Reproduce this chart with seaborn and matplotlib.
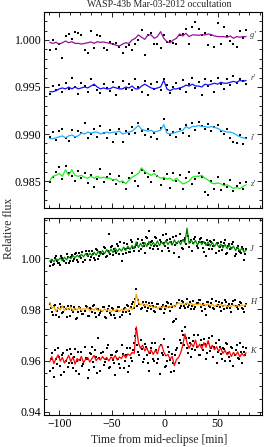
import numpy as np
import matplotlib
matplotlib.use("Agg")
import matplotlib.pyplot as plt
from matplotlib.ticker import MultipleLocator, FormatStrFormatter
import seaborn as sns

# time from mid-eclipse [min]
t_opt = [-109, -106, -103, -100, -97, -94, -91, -88, -85, -82, -79, -76, -73, -70, -67, -64,
         -61, -58, -55, -52, -49, -46, -43, -40, -37, -34, -31, -28, -25, -22, -19, -16,
         -13, -10, -7, -4, -1, 2, 5, 8, 11, 14, 17, 20, 23, 26, 29, 32, 35, 38, 41, 44,
         47, 50, 53, 56, 59, 62, 65, 68, 71, 74, 77]
t_nir = [-109, -107, -105, -103, -101, -99, -97, -95, -93, -91,
         -89, -87, -85, -83, -81, -79, -77, -75, -73, -71,
         -69, -67, -65, -63, -61, -59, -57, -55, -53, -51,
         -49, -47, -45, -43, -41, -39, -37, -35, -33, -31,
         -29, -27, -25, -23, -21, -19, -17, -15, -13, -11,
         -9, -7, -5, -3, -1, 1, 3, 5, 7, 9,
         11, 13, 15, 17, 19, 21, 23, 25, 27, 29,
         31, 33, 35, 37, 39, 41, 43, 45, 47, 49,
         51, 53, 55, 57, 59, 61, 63, 65, 67, 69,
         71, 73, 75, 77]
t_nir2 = [-108, -106, -104, -102, -100, -98, -96, -94, -92, -90,
          -88, -86, -84, -82, -80, -78, -76, -74, -72, -70,
          -68, -66, -64, -62, -60, -58, -56, -54, -52, -50,
          -48, -46, -44, -42, -40, -38, -36, -34, -32, -30,
          -28, -26, -24, -22, -20, -18, -16, -14, -12, -10,
          -8, -6, -4, -2, 0, 2, 4, 6, 8, 10,
          12, 14, 16, 18, 20, 22, 24, 26, 28, 30,
          32, 34, 36, 38, 40, 42, 44, 46, 48, 50,
          52, 54, 56, 58, 60, 62, 64, 66, 68, 70,
          72, 74, 76]

# relative flux, stored as (flux - 1) * 1e4
g_dots = [-11, 0, -10, -4, -19, 4, 6, 1, 8, 7, 5, -11, -14, 10, -9, 5, 4, -9, -11, -2,
          -4, -3, -7, -14, -7, -5, -11, -4, 0, 11, -16, 5, 7, -4, -4, -9, 5, -2, -1, -3,
          -4, 5, 6, 12, -4, 14, 19, 12, 5, 7, -5, 5, -7, 18, -4, 14, 4, -1, -4, -7, 10, 2, 11]
g_line = [-2.5, -3.6, -2.5, -4.3, -2.9, -1.1, -2.9, -1.8, -3.6, -3.6,
          -4.3, -3.6, -2.9, -2.1, -3.6, -1.8, -2.5, -2.1, -2.9, -3.6,
          -4.3, -5.7, -6.4, -4.3, -2.9, -3.6, 0, 1.8, 5.4, 2.9,
          0.7, 5.4, 5.4, 1.8, 3.6, 8.9, 1.8, -1.8, -2.9, 0,
          1.8, 6.4, 4.3, 7.1, 3.6, 5.4, 5.4, 5.0, 5.7, 5.4,
          6.4, 5.7, 4.3, 3.6, 3.6, 3.6, 2.9, 4.3, 1.8, 3.6, 2.9, 3.6, 3.6]

r_dots = [-57, -49, -53, -48, -55, -46, -52, -40, -50, -57, -46, -49, -55, -41, -48, -53, -56, -47, -51, -54,
          -45, -58, -50, -44, -52, -47, -53, -42, -50, -55, -44, -58, -47, -52, -45, -53, -41, -48, -56, -50,
          -46, -52, -43, -55, -47, -40, -51, -45, -58, -42, -49, -44, -55, -40, -47, -52, -42, -48, -38, -46,
          -41, -44, -47]
r_line = [-55, -55, -54, -52, -51, -52, -50, -52, -50, -52, -51, -50, -51, -49, -47, -50, -52, -51, -52, -52,
          -50, -51, -52, -52, -50, -51, -49, -52, -52, -49, -47, -49, -51, -52, -51, -50, -43, -52, -54, -52,
          -52, -51, -50, -48, -49, -47, -49, -49, -50, -47, -48, -47, -46, -47, -45, -46, -46, -45, -44, -45,
          -43, -44, -43]

i_dots = [-103, -98, -106, -97, -95, -104, -107, -96, -103, -97, -99, -88, -104, -100, -95, -103, -92, -99, -104, -96,
          -109, -100, -95, -108, -97, -100, -93, -99, -88, -97, -101, -95, -103, -99, -105, -94, -84, -96, -101, -98,
          -103, -95, -99, -90, -102, -88, -96, -87, -92, -95, -89, -97, -93, -90, -97, -100, -95, -104, -108, -110,
          -101, -111, -104]
i_line = [-105, -105, -104, -103, -102, -104, -102, -101, -103, -102, -99, -100, -98, -99, -98, -98, -100, -99, -98, -99,
          -98, -98, -97, -100, -99, -98, -97, -94, -91, -95, -96, -97, -96, -98, -97, -96, -90, -99, -100, -99,
          -98, -97, -96, -92, -94, -92, -92, -91, -92, -92, -93, -92, -93, -94, -96, -97, -98, -98, -99, -101,
          -103, -104, -105]

z_dots = [-151, -146, -140, -135, -148, -134, -142, -145, -150, -139, -147, -141, -152, -144, -156, -148, -137, -151, -146, -143,
          -149, -153, -145, -151, -158, -147, -141, -150, -155, -138, -142, -146, -151, -139, -145, -154, -148, -143, -157, -141,
          -150, -144, -159, -147, -140, -153, -148, -142, -146, -162, -165, -150, -158, -146, -160, -153, -156, -149, -161, -155,
          -152, -158, -151]
z_line = [-150, -145, -144, -142, -145, -138, -144, -138, -144, -145, -144, -146, -147, -145, -147, -145, -147, -146, -147, -147,
          -149, -148, -151, -150, -153, -149, -146, -144, -142, -136, -140, -142, -144, -142, -145, -147, -146, -148, -147, -150,
          -147, -150, -153, -152, -150, -146, -145, -145, -144, -147, -149, -152, -153, -152, -153, -155, -154, -156, -158, -157,
          -158, -156, -154]

J_dots = [-30, -5, -22, 8, -18, -25, 0, -12, 15, -20,
          5, -10, 18, -8, 22, 0, -15, 28, 10, -5,
          30, 2, 35, -2, 25, 15, 40, 8, 95, 45,
          12, 30, 55, 18, -10, 60, 20, 42, 25, 65,
          28, 52, 75, 35, 58, 22, 80, 105, 62, 38,
          85, 48, 70, 30, 60, 95, 42, 75, 55, 20,
          88, 5, 68, 35, 78, 100, 45, 70, 58, 85,
          40, 75, 62, 25, 8, 52, 68, 35, 72, 58,
          30, 65, 48, 70, 20, 55, 40, 62, 15, 50,
          25, 45, -5, 35]
J_dots2 = [-15, -28, 2, -10, -20, 10, -5, -18, 5, -12,
           12, -2, 20, -15, 8, 25, -6, 15, 30, 4,
           18, -8, 32, 10, 22, 45, 5, 28, 15, 50,
           35, 20, 48, 62, 15, 38, 55, 25, 70, 40,
           45, 60, 30, 72, 48, 85, 55, 40, 68, 50,
           78, 35, 62, 90, 48, 70, 30, 65, 82, 52,
           60, 95, 40, 72, 55, 88, 65, 30, 75, 50,
           62, 80, 42, 58, 70, 38, 65, 50, 22, 60,
           45, 32, 58, 18, 48, 35, 55, 10, 40, 28,
           20, 38, 15]
J_line = [-12, -4, -14, -2, -8, 2, -10, 4, -6, 6,
          -2, 10, 2, 12, 4, 16, 6, 18, 8, 20,
          10, 24, 12, 28, 14, 30, 18, 34, 20, 36,
          22, 40, 26, 38, 28, 44, 30, 48, 34, 50,
          38, 64, 42, 58, 44, 62, 46, 66, 48, 62,
          50, 68, 50, 64, 52, 70, 54, 66, 52, 72,
          56, 68, 54, 74, 60, 118, 58, 72, 56, 70,
          52, 68, 54, 66, 50, 64, 48, 62, 46, 60,
          44, 56, 40, 54, 38, 52, 36, 48, 30, 44,
          28, 40, 24, 32]

H_dots = [-178, -210, -185, -222, -195, -180, -215, -190, -228, -198,
          -185, -212, -200, -232, -190, -205, -218, -188, -225, -196,
          -210, -183, -230, -200, -215, -192, -228, -205, -188, -220,
          -198, -235, -206, -190, -222, -200, -212, -185, -218, -178,
          -195, -120, -165, -200, -170, -190, -205, -175, -198, -185,
          -210, -180, -200, -192, -215, -185, -175, -205, -190, -245,
          -238, -165, -185, -170, -195, -160, -182, -200, -168, -190,
          -175, -165, -205, -182, -220, -172, -190, -160, -198, -185,
          -170, -208, -188, -165, -195, -178, -212, -168, -185, -200,
          -172, -195, -210, -180]
H_dots2 = [-195, -220, -182, -205, -230, -190, -212, -200, -185, -225,
           -202, -190, -238, -210, -195, -218, -205, -192, -226, -200,
           -186, -215, -198, -222, -208, -190, -232, -200, -214, -195,
           -220, -205, -192, -228, -210, -196, -182, -205, -190, -172,
           -160, -185, -178, -196, -182, -170, -195, -188, -176, -205,
           -190, -178, -198, -184, -200, -172, -192, -180, -250, -186,
           -175, -195, -168, -188, -178, -192, -170, -185, -198, -176,
           -165, -190, -180, -200, -170, -185, -175, -195, -168, -182,
           -192, -175, -200, -170, -185, -195, -178, -165, -190, -182,
           -175, -198, -185]
H_line = [-172, -195, -188, -208, -192, -202, -186, -205, -194, -200,
          -190, -206, -196, -202, -192, -204, -197, -200, -192, -206,
          -198, -203, -194, -206, -200, -208, -198, -204, -200, -210,
          -202, -206, -198, -209, -200, -205, -196, -206, -194, -200,
          -188, -140, -172, -182, -176, -186, -180, -190, -184, -194,
          -188, -196, -190, -194, -186, -196, -188, -192, -184, -190,
          -180, -174, -180, -176, -182, -174, -180, -176, -184, -178,
          -182, -176, -186, -180, -184, -178, -186, -180, -188, -182,
          -186, -180, -188, -182, -190, -184, -188, -182, -190, -184,
          -188, -182, -186, -180]

K_dots = [-440, -370, -465, -395, -350, -420, -380, -445, -360, -410,
          -375, -430, -355, -400, -452, -365, -415, -390, -470, -372,
          -345, -425, -385, -310, -440, -368, -405, -350, -430, -378,
          -398, -455, -362, -415, -340, -428, -380, -445, -352, -400,
          -330, -275, -365, -320, -405, -335, -380, -440, -350, -395,
          -330, -410, -452, -370, -315, -420, -345, -398, -375, -440,
          -360, -410, -330, -300, -270, -350, -310, -385, -325, -360,
          -300, -380, -340, -315, -395, -330, -362, -305, -345, -410,
          -320, -375, -350, -400, -335, -385, -345, -420, -360, -390,
          -330, -410, -365, -350]
K_dots2 = [-395, -430, -360, -415, -385, -455, -370, -400, -425, -355,
           -410, -385, -440, -368, -398, -420, -345, -392, -435, -375,
           -405, -360, -448, -390, -372, -418, -395, -340, -425, -380,
           -410, -365, -395, -430, -375, -402, -350, -420, -390, -360,
           -305, -340, -380, -355, -392, -345, -410, -370, -332, -400,
           -360, -395, -340, -380, -425, -400, -365, -445, -410, -380,
           -350, -320, -285, -340, -312, -370, -330, -355, -300, -345,
           -380, -318, -360, -335, -372, -310, -350, -388, -330, -365,
           -345, -395, -355, -330, -372, -400, -350, -380, -340, -395,
           -365, -348, -380]
K_line = [-405, -385, -412, -392, -378, -402, -388, -410, -396, -380,
          -404, -386, -414, -392, -400, -384, -408, -395, -388, -406,
          -392, -380, -400, -390, -398, -384, -396, -388, -402, -386,
          -394, -380, -398, -386, -392, -376, -390, -374, -380, -368,
          -372, -268, -330, -352, -340, -362, -350, -372, -358, -376,
          -360, -374, -344, -338, -366, -382, -376, -394, -384, -420,
          -396, -388, -370, -340, -296, -330, -352, -334, -346, -320,
          -350, -336, -354, -330, -348, -322, -352, -340, -358, -346,
          -364, -350, -372, -360, -378, -364, -384, -368, -380, -366,
          -386, -372, -382, -370]

opt_bands = [("g'", g_dots, g_line, "#9a109a", 5),
             ("r'", r_dots, r_line, "#1010ff", -40),
             ("i'", i_dots, i_line, "#20b0ff", -104),
             ("z'", z_dots, z_line, "#22ee22", -153)]
nir_bands = [("J", J_dots, J_dots2, J_line, "#008a00", 35),
             ("H", H_dots, H_dots2, H_line, "#ffa500", -172),
             ("K", K_dots, K_dots2, K_line, "#ff0000", -361)]

sns.set_theme(style="ticks")
plt.rcParams["font.family"] = ["Liberation Serif", "DejaVu Serif"]


def to_flux(vals):
    return 1.0 + np.asarray(vals, dtype=float) * 1e-4


def draw_dots(ax, t, dots):
    sns.scatterplot(x=t, y=to_flux(dots), ax=ax, s=2.2, marker="s",
                    color="black", linewidth=0, legend=False, zorder=2)


def draw_line(ax, t, line, color, name, label_y):
    sns.lineplot(x=t, y=to_flux(line), ax=ax, color=color, lw=0.9,
                 legend=False, zorder=3)
    ax.text(81, to_flux([label_y])[0], name, fontsize=6, style="italic",
            color="#333333", ha="left", va="center")


def style_axes(ax, major, minor, fmt):
    ax.set_xlim(-114.4, 92)
    ax.xaxis.set_major_locator(MultipleLocator(50))
    ax.xaxis.set_minor_locator(MultipleLocator(10))
    ax.yaxis.set_major_locator(MultipleLocator(major))
    ax.yaxis.set_minor_locator(MultipleLocator(minor))
    ax.yaxis.set_major_formatter(FormatStrFormatter(fmt))
    ax.tick_params(which="both", direction="in", top=True, right=True,
                   width=0.6, labelsize=8.5, pad=2, colors="black")
    ax.tick_params(which="major", length=3.5)
    ax.tick_params(which="minor", length=2)
    for sp in ax.spines.values():
        sp.set_linewidth(0.8)
        sp.set_color("black")
    ax.set_xlabel("")
    ax.set_ylabel("")


fig = plt.figure(figsize=(2.66, 4.47), dpi=100)
ax_top = fig.add_axes([0.1654, 0.5347, 0.8195, 0.4385])
ax_bot = fig.add_axes([0.1654, 0.0716, 0.8195, 0.4407])

for name, dots, line, color, ly in opt_bands:
    draw_dots(ax_top, t_opt, dots)
    draw_line(ax_top, t_opt, line, color, name, ly)
for name, dots, dots2, line, color, ly in nir_bands:
    draw_dots(ax_bot, t_nir, dots)
    draw_dots(ax_bot, t_nir2, dots2)
    draw_line(ax_bot, t_nir, line, color, name, ly)

style_axes(ax_top, 0.005, 0.001, "%.3f")
ax_top.set_ylim(0.98213, 1.00298)
ax_top.tick_params(labelbottom=False)

style_axes(ax_bot, 0.02, 0.005, "%.2f")
ax_bot.set_ylim(0.93871, 1.01576)

fig.text(0.6, 0.989, "WASP-43b Mar-03-2012 occultation", ha="center",
         va="center", fontsize=7)
fig.text(0.6, 0.016, "Time from mid-eclipse [min]", ha="center",
         va="center", fontsize=8.5)
fig.text(0.035, 0.49, "Relative flux", ha="center", va="center",
         rotation=90, fontsize=8.5)

fig.savefig("out.png", dpi=100)
